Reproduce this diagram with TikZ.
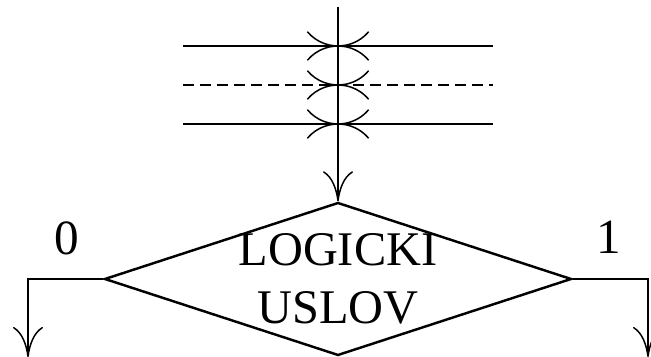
\documentclass[tikz,border=0pt]{standalone}
\usepackage{fontspec}
\setmainfont{Liberation Serif}
\usepackage{tikz}
\usetikzlibrary{arrows.meta,positioning,shapes.geometric}
\tikzset{
  linija/.style={line width=.85pt, draw=black},
  crtkano/.style={linija, dash pattern=on 0.22cm off 0.12cm},
  strelica/.style={linija, -{To[length=0.6cm, width=0.6cm]}},
  uslovblok/.style={diamond, draw, line width=1.4pt, align=center, inner sep=-4pt,
    minimum width=9.34cm, minimum height=3.06cm, shape aspect=3.05,
    font=\fontsize{27.5}{33}\selectfont},
  oznaka/.style={anchor=base, inner sep=0pt, font=\fontsize{28}{33}\selectfont},
}

\begin{document}
\begin{tikzpicture}
    \useasboundingbox (0,0) rectangle (13.02,7.14);

    % blok uslova
    \node[uslovblok] (uslov) at (6.76,1.56) {LOGICKI\\USLOV};
    \node[oznaka] (nula) at (1.34,2.04) {0};
    \node[oznaka] (jedan) at (12.18,2.06) {1};

    % ulaz
    \coordinate (ulaz) at (6.76,7.00);
    \draw[strelica] (ulaz) -- (uslov.north);

    % linije koje se seku
    \foreach \y/\s in {6.22/linija, 5.44/crtkano, 4.66/linija}{
      \draw[\s] (3.66,\y) -- (9.86,\y);
      \draw[linija] (6.76,\y) ++(-0.613,0.286) arc[start angle=-140, end angle=-40, radius=0.8];
      \draw[linija] (6.76,\y) ++(-0.613,-0.286) arc[start angle=140, end angle=40, radius=0.8];
    }

    % izlazi
    \coordinate (levo) at (0.56,0);
    \coordinate (desno) at (12.96,0);
    \draw[strelica] (uslov.west) -| (levo);
    \draw[strelica] (uslov.east) -| (desno);
\end{tikzpicture}
\end{document}
